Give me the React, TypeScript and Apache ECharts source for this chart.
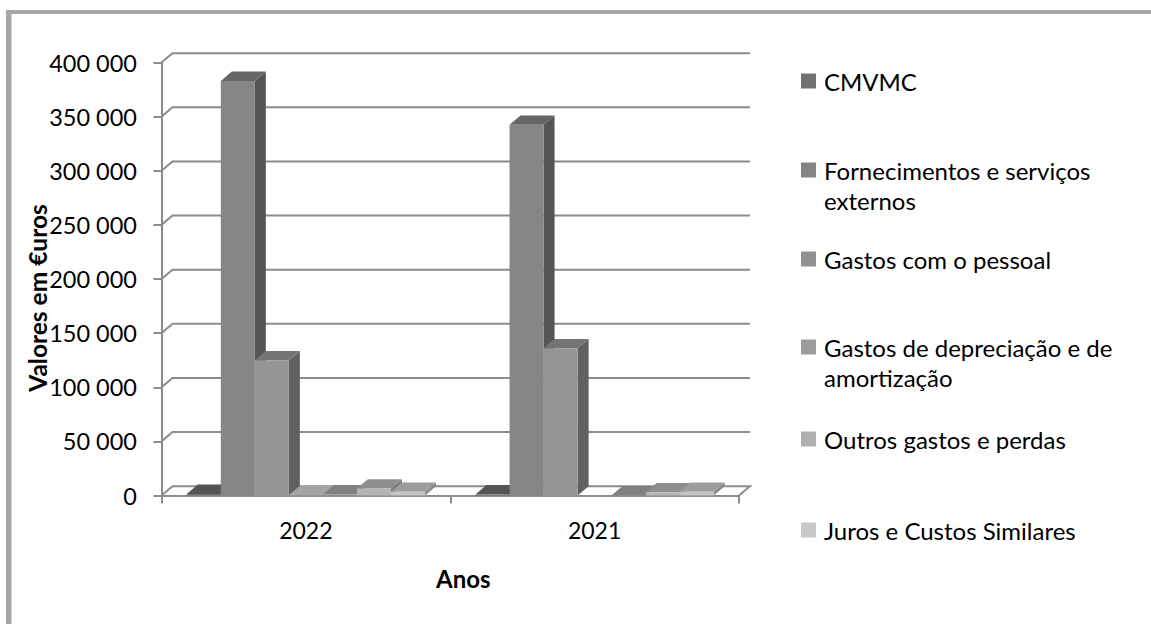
import React, { useEffect, useRef } from "react";
import * as echarts from "echarts";

const categories = ["2022", "2021"];
const seriesNames = [
  "CMVMC",
  "Fornecimentos e serviços externos",
  "Gastos com o pessoal",
  "Gastos de depreciação e de amortização",
  "Outros gastos e perdas",
  "Juros e Custos Similares",
  "",
];
const cmvmc = [1500, 1000];
const fornecimentos = [383000, 342500];
const pessoal = [125000, 136000];
const depreciacao = [300, null];
const outros = [1000, 300];
const juros = [6500, 3000];
const extra = [3500, 3500];
const allValues = [cmvmc, fornecimentos, pessoal, depreciacao, outros, juros, extra];
const gridValues = [0, 50000, 100000, 150000, 200000, 250000, 300000, 350000, 400000];

const frontColors = ["#707070", "#868686", "#969696", "#a2a2a2", "#8e8e8e", "#b4b4b4", "#c4c4c4"];
const topColors = ["#545454", "#666666", "#747474", "#a4a4a4", "#808080", "#8e8e8e", "#9c9c9c"];
const sideColors = ["#454545", "#555555", "#606060", "#707070", "#6a6a6a", "#7a7a7a", "#888888"];
const legendColors = ["#707070", "#848484", "#919191", "#9c9c9c", "#b0b0b0", "#c8c8c8"];
const legendLines = [
  ["CMVMC"],
  ["Fornecimentos e serviços", "externos"],
  ["Gastos com o pessoal"],
  ["Gastos de depreciação e de", "amortização"],
  ["Outros gastos e perdas"],
  ["Juros e Custos Similares"],
];
const legendTops = [81, 170, 259, 347, 439, 530];

const FONT = "Lato, 'Open Sans', sans-serif";
const DX = 11;
const DY = 9.3;
const GRID_COLOR = "#8c8c8c";

export default function App() {
  const ref = useRef<HTMLDivElement>(null);
  useEffect(() => {
    const chart = echarts.init(ref.current!, null, { renderer: "svg" });
    const barSeries = allValues.map((vals, si) => ({
      type: "custom",
      name: seriesNames[si] || "Outros",
      coordinateSystem: "cartesian2d",
      z: 5 + si,
      clip: false,
      data: vals.map((v, i) => [i, v]),
      renderItem: (_p: any, api: any) => {
        const v = api.value(1);
        if (v === null || v === undefined || isNaN(v)) return null;
        const catW = api.size([1, 0])[0];
        const c = api.coord([api.value(0), v]);
        const base = api.coord([api.value(0), 0]);
        const w = (catW * 34) / 288.5;
        const x0 = c[0] - (w * 7) / 2 + si * w;
        const x1 = x0 + w;
        const yT = c[1];
        const yB = base[1];
        return {
          type: "group",
          children: [
            { type: "polygon", shape: { points: [[x1, yT], [x1 + DX, yT - DY], [x1 + DX, yB - DY], [x1, yB]] }, style: { fill: sideColors[si] } },
            { type: "polygon", shape: { points: [[x0, yT], [x0 + DX, yT - DY], [x1 + DX, yT - DY], [x1, yT]] }, style: { fill: topColors[si] } },
            { type: "rect", shape: { x: x0, y: yT, width: w, height: Math.max(yB - yT, 0) }, style: { fill: frontColors[si] } },
          ],
        };
      },
    }));
    const gridSeries = {
      type: "custom",
      name: "grade",
      coordinateSystem: "cartesian2d",
      z: 1,
      clip: false,
      silent: true,
      data: gridValues.map((v) => [0, v]),
      renderItem: (params: any, api: any) => {
        const y = api.coord([0, api.value(1)])[1];
        const left = params.coordSys.x;
        const right = left + params.coordSys.width;
        return {
          type: "polyline",
          shape: { points: [[left, y], [left + DX, y - DY], [right + DX, y - DY]].concat(api.value(1) === 0 ? [[right, y]] : []) },
          style: { fill: "none", stroke: GRID_COLOR, lineWidth: 2 },
        };
      },
    };
    const graphic: any[] = [
      { type: "rect", shape: { x: 6, y: 10, width: 1145, height: 4 }, style: { fill: "#a6a6a6" } },
      { type: "rect", shape: { x: 6, y: 10, width: 5.5, height: 614 }, style: { fill: "#a6a6a6" } },
    ];
    legendLines.forEach((lines, i) => {
      graphic.push({ type: "rect", shape: { x: 801, y: legendTops[i] - 7.5, width: 15, height: 15 }, style: { fill: legendColors[i] } });
      lines.forEach((line, j) => {
        graphic.push({
          type: "text",
          x: 824,
          y: legendTops[i] + j * 30.5,
          style: { text: line, fill: "#000", font: `24px ${FONT}`, verticalAlign: "middle", textVerticalAlign: "middle" },
        });
      });
    });
    chart.setOption({
      animation: false,
      backgroundColor: "#fff",
      grid: { left: 161.5, top: 62.5, width: 577.5, height: 433, containLabel: false },
      xAxis: {
        type: "category",
        data: categories,
        boundaryGap: true,
        name: "Anos",
        nameLocation: "middle",
        nameMoveOverlap: false,
        nameGap: 70.5,
        nameTextStyle: { fontFamily: FONT, fontSize: 24, fontWeight: "bold", color: "#000", padding: [0, 0, 0, 26] },
        axisLine: { lineStyle: { color: GRID_COLOR, width: 2 } },
        axisTick: { show: true, length: 8, lineStyle: { color: GRID_COLOR, width: 2 } },
        axisLabel: { fontFamily: FONT, fontSize: 23, color: "#000", margin: 23 },
        splitLine: { show: false },
      },
      yAxis: {
        type: "value",
        min: 0,
        max: 400000,
        interval: 50000,
        name: "Valores em €uros",
        nameLocation: "middle",
        nameMoveOverlap: false,
        nameGap: 112,
        nameRotate: 90,
        nameTextStyle: { fontFamily: FONT, fontSize: 24.5, fontWeight: "bold", color: "#000", padding: [0, 38, 0, 0] },
        axisLine: { show: true, lineStyle: { color: GRID_COLOR, width: 2 } },
        axisTick: { show: true, length: 8, lineStyle: { color: GRID_COLOR, width: 2 } },
        axisLabel: {
          fontFamily: FONT,
          fontSize: 23.5,
          color: "#000",
          margin: 24.5,
          formatter: (v: number) => String(v).replace(/\B(?=(\d{3})+$)/g, " "),
        },
        splitLine: { show: false },
      },
      series: [gridSeries, ...barSeries],
      graphic,
    } as any);
    return () => chart.dispose();
  }, []);
  return <div ref={ref} style={{ position: "absolute", left: 0, top: 0, width: 1151, height: 624 }} />;
}
